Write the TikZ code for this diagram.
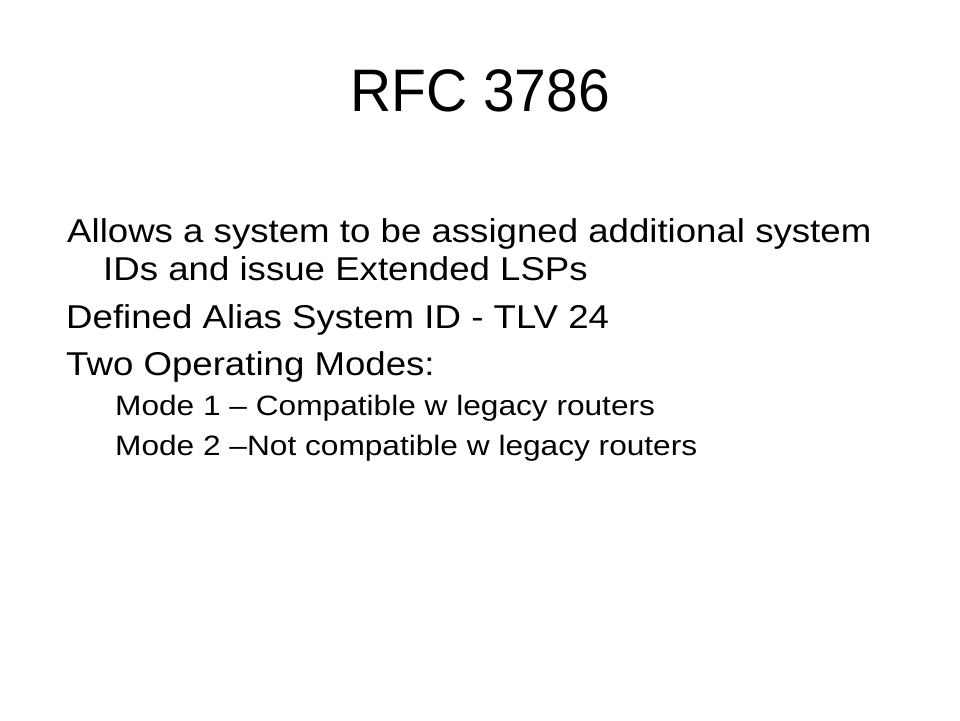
\documentclass[tikz,border=0pt]{standalone}
\usepackage{fontspec}
\setmainfont{Liberation Sans}
\newfontfamily\titlefont[FakeStretch=0.95]{Liberation Sans}
\newfontfamily\bodyfont[FakeStretch=1.11]{Liberation Sans}
\newfontfamily\subfont[FakeStretch=1.13]{Liberation Sans}

\begin{document}
\begin{tikzpicture}[x=1pt, y=-1pt,
    slidetitle/.style={anchor=base, inner sep=0pt, font=\titlefont\fontsize{60}{70}\selectfont},
    bodyline/.style={anchor=base west, inner sep=0pt, font=\bodyfont\fontsize{33}{40}\selectfont},
    subline/.style={anchor=base west, inner sep=0pt, font=\subfont\fontsize{28}{34}\selectfont}]
            \useasboundingbox [fill=white] (0,0) rectangle (960,720);

            % title
            \node (title) at (480,111) [slidetitle] {RFC 3786};

            % bullets
            \node (alias) at (67,242) [bodyline] {Allows a system to be assigned additional system};
            \node (aliascont) at (103,280) [bodyline] {IDs and issue Extended LSPs};
            \node (tlv) at (66,328) [bodyline] {Defined Alias System ID - TLV 24};
            \node (modes) at (66,375) [bodyline] {Two Operating Modes:};

            % sub bullets
            \node (modeone) at (115,415) [subline] {Mode 1 – Compatible w legacy routers};
            \node (modetwo) at (115,455) [subline] {Mode 2 –Not compatible w legacy routers};
        \end{tikzpicture}
\end{document}
